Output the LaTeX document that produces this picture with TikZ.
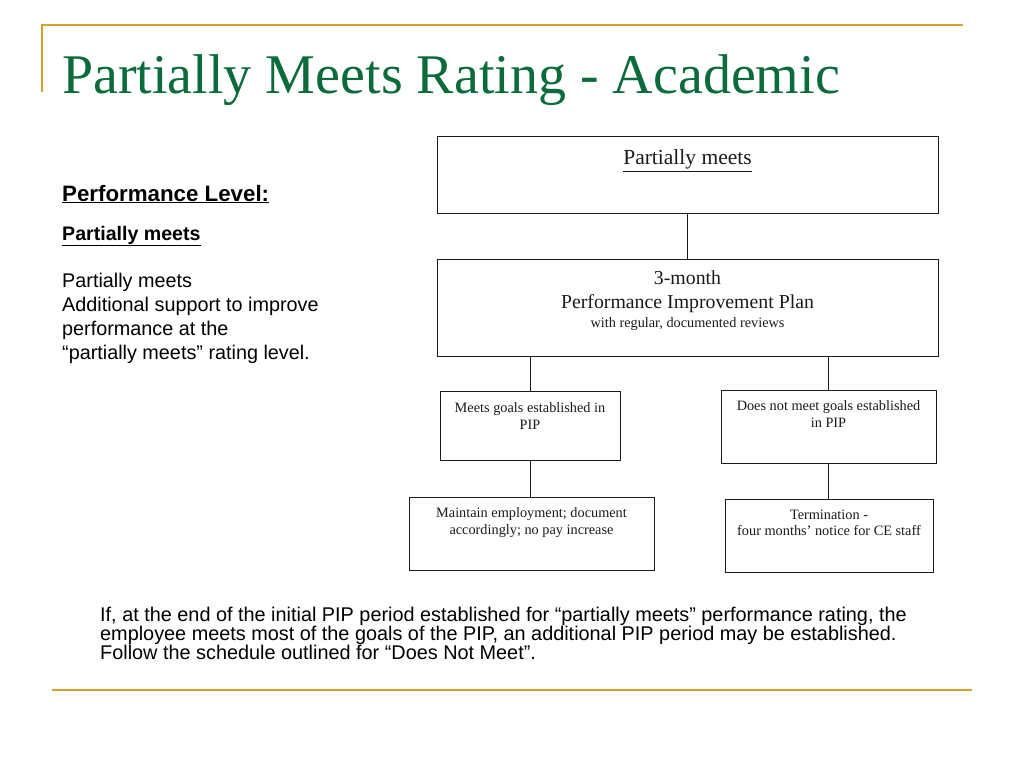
\documentclass[tikz,border=0pt]{standalone}
\usepackage{fontspec}
\setmainfont{Liberation Serif}
\setsansfont{Liberation Sans}
\usepackage{xcolor}
\definecolor{title-green}{HTML}{0B6B3A}
\definecolor{rule-gold}{HTML}{D4A02A}
\definecolor{ink}{HTML}{1A1A1A}

\tikzset{
  box/.style={draw=ink, line width=0.8pt, inner sep=0pt},
  boxtext/.style={anchor=north, align=center, inner sep=0pt, color=ink,
    font=\fontsize{14.3}{16.5}\selectfont},
  link/.style={draw=ink, line width=0.8pt},
}

\begin{document}
\begin{tikzpicture}[x=1pt, y=-1pt]
  \useasboundingbox (0,0) rectangle (1024,768);
  % gold rules
  \draw[rule-gold, line width=2pt] (42,92) -- (42,25) -- (963,25);
  \draw[rule-gold, line width=2pt] (52,690) -- (972,690);
  \node[color=title-green, anchor=base west, inner sep=0pt,
    font=\fontsize{56}{60}\selectfont] (title) at (62,93) {Partially Meets Rating - Academic};
  % left column
  \node[anchor=base west, inner sep=0pt, font=\sffamily\bfseries\fontsize{22.3}{24}\selectfont]
    (level) at (62,201) {\underline{Performance Level:}};
  \node[anchor=base west, inner sep=0pt, font=\sffamily\bfseries\fontsize{19.6}{20}\selectfont]
    (levelname) at (62,240) {\underline{Partially meets}};
  \node[anchor=north west, align=left, inner sep=0pt, font=\sffamily\fontsize{19.8}{24}\selectfont]
    (leveltext) at (62,273) {Partially meets\\Additional support to improve\\performance at the\\``partially meets'' rating level.};
  % boxes
  \node[box, minimum width=501pt, minimum height=77pt] (pm) at (687.5,174.5) {};
  \node[boxtext, font=\fontsize{21.5}{22}\selectfont] (pm-t) at ([yshift=-14pt]pm.north) {\underline{Partially meets}};
  \node[box, minimum width=501pt, minimum height=97pt] (pip) at (687.5,307.5) {};
  \node[boxtext, font=\fontsize{19.8}{24}\selectfont] (pip-t) at ([yshift=-11.5pt]pip.north) {3-month\\Performance Improvement Plan};
  \node[boxtext] (pip-s) at ([yshift=-59pt]pip.north) {with regular, documented reviews};
  \node[box, minimum width=180pt, minimum height=69pt] (meet) at (530,425.5) {};
  \node[boxtext] (meet-t) at ([yshift=-12pt]meet.north) {Meets goals established in\\PIP};
  \node[box, minimum width=215pt, minimum height=73pt] (nomeet) at (828.5,426.5) {};
  \node[boxtext] (nomeet-t) at ([yshift=-11pt]nomeet.north) {Does not meet goals established\\in PIP};
  \node[box, minimum width=245pt, minimum height=73pt] (keep) at (531.5,533.5) {};
  \node[boxtext] (keep-t) at ([yshift=-11pt]keep.north) {Maintain employment; document\\accordingly; no pay increase};
  \node[box, minimum width=208pt, minimum height=73pt] (term) at (829,535.5) {};
  \node[boxtext] (term-t) at ([yshift=-11pt]term.north) {Termination -\\four months' notice for CE staff};
  % connectors
  \draw[link] (pm.south) -- (pip.north);
  \draw[link] (pip.south -| meet.north) -- (meet.north);
  \draw[link] (pip.south -| nomeet.north) -- (nomeet.north);
  \draw[link] (meet.south) -- (meet.south |- keep.north);
  \draw[link] (nomeet.south) -- (nomeet.south |- term.north);
  % note
  \node[anchor=north west, align=left, inner sep=0pt, font=\sffamily\fontsize{19.85}{19}\selectfont]
    (note) at (100,607) {If, at the end of the initial PIP period established for ``partially meets'' performance rating, the\\employee meets most of the goals of the PIP, an additional PIP period may be established.\\Follow the schedule outlined for ``Does Not Meet''.};
\end{tikzpicture}
\end{document}
